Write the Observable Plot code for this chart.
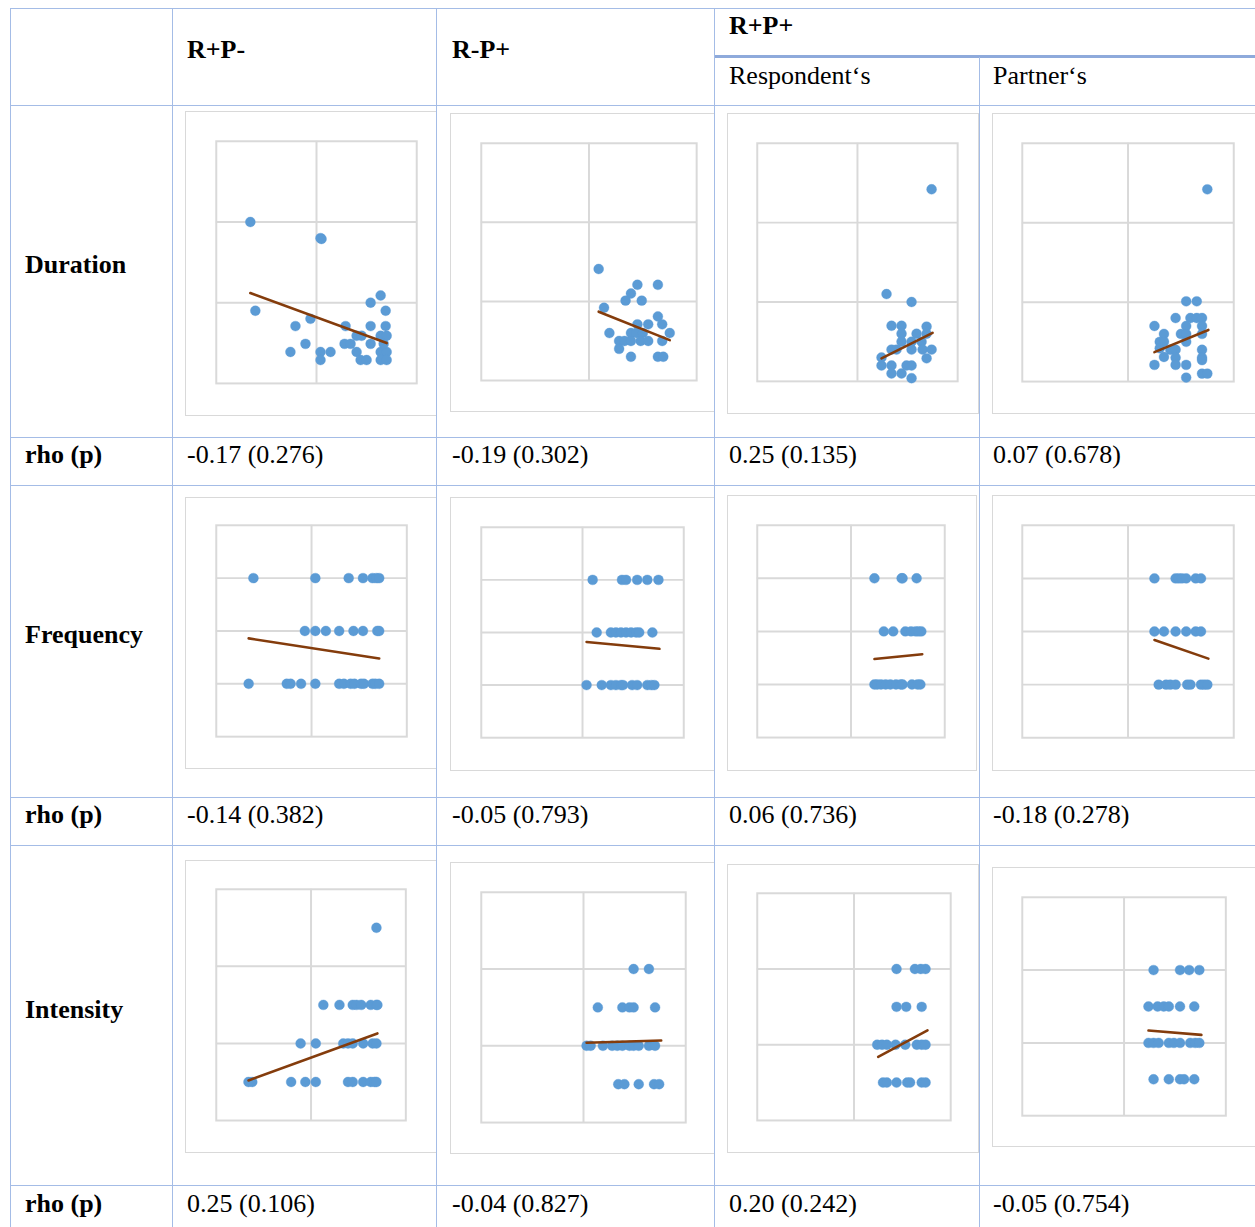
<!DOCTYPE html>
<html><head><meta charset="utf-8">
<script src="https://cdn.jsdelivr.net/npm/d3@7"></script>
<script src="https://cdn.jsdelivr.net/npm/@observablehq/plot@0.6"></script>
<style>
html,body{margin:0;padding:0;background:#fff}
body{width:1255px;height:1227px;overflow:hidden;position:relative;font-family:"Liberation Serif","Times New Roman",serif}
.hl{position:absolute;height:1px;background:#a4bce6}
.vl{position:absolute;width:1px;background:#a4bce6}
.txt{position:absolute;font-size:26px;line-height:30px;height:30px;color:#000;white-space:nowrap}
.b{font-weight:bold}
.cell{position:absolute;overflow:hidden}
.chart{position:absolute;border:1px solid #d9d9d9;box-sizing:border-box;background:#fff}
.chart svg{position:absolute;left:-1px;top:-1px}
</style></head><body>
<script>
// ---------- text ----------
const groupHeaders = ["R+P-", "R-P+", "R+P+"];
const subHeaders = ["Respondent‘s", "Partner‘s"];
const rowLabels = ["Duration", "Frequency", "Intensity"];
const statLabel = "rho (p)";
const rhoDuration  = ["-0.17 (0.276)", "-0.19 (0.302)", "0.25 (0.135)", "0.07 (0.678)"];
const rhoFrequency = ["-0.14 (0.382)", "-0.05 (0.793)", "0.06 (0.736)", "-0.18 (0.278)"];
const rhoIntensity = ["0.25 (0.106)", "-0.04 (0.827)", "0.20 (0.242)", "-0.05 (0.754)"];

// ---------- data: [x, y] points and trendline end points ----------
const durRPm = [[0.34,2.0],[1.04,1.8],[1.05,1.79],[0.39,0.90],[0.79,0.71],[0.94,0.80],[0.89,0.49],[0.74,0.39],[1.04,0.39],[1.04,0.29],[1.14,0.39],[1.29,0.71],[1.28,0.49],[1.34,0.49],[1.40,0.59],[1.45,0.59],[1.40,0.39],[1.44,0.29],[1.50,0.29],[1.54,1.00],[1.64,1.09],[1.69,0.90],[1.54,0.71],[1.69,0.71],[1.54,0.49],[1.64,0.59],[1.70,0.59],[1.64,0.39],[1.70,0.39],[1.64,0.29],[1.70,0.29],[1.67,0.49]];
const durRPmTrend = [[0.34,1.12],[1.70,0.50]];
const durRmP = [[1.09,1.41],[1.45,1.21],[1.64,1.21],[1.39,1.10],[1.34,1.01],[1.49,1.01],[1.14,0.92],[1.64,0.81],[1.68,0.71],[1.75,0.60],[1.19,0.60],[1.45,0.71],[1.55,0.71],[1.39,0.60],[1.44,0.60],[1.50,0.60],[1.28,0.50],[1.33,0.50],[1.39,0.50],[1.48,0.50],[1.55,0.50],[1.68,0.50],[1.28,0.40],[1.39,0.30],[1.64,0.30],[1.69,0.30]];
const durRmPTrend = [[1.09,0.87],[1.75,0.51]];
const durResp = [[1.74,2.42],[1.29,1.10],[1.54,1.00],[1.34,0.70],[1.44,0.70],[1.44,0.60],[1.59,0.60],[1.69,0.69],[1.69,0.60],[1.44,0.50],[1.54,0.50],[1.64,0.50],[1.34,0.40],[1.39,0.40],[1.54,0.40],[1.65,0.40],[1.74,0.40],[1.69,0.29],[1.24,0.30],[1.24,0.20],[1.34,0.20],[1.49,0.20],[1.54,0.20],[1.34,0.10],[1.44,0.10],[1.54,0.04]];
const durRespTrend = [[1.24,0.29],[1.75,0.61]];
const durPart = [[1.75,2.42],[1.55,1.01],[1.65,1.01],[1.45,0.80],[1.59,0.80],[1.65,0.80],[1.70,0.80],[1.25,0.70],[1.55,0.70],[1.70,0.70],[1.34,0.60],[1.50,0.60],[1.55,0.60],[1.70,0.60],[1.30,0.50],[1.34,0.50],[1.55,0.50],[1.30,0.42],[1.40,0.40],[1.45,0.40],[1.70,0.40],[1.34,0.31],[1.45,0.30],[1.70,0.30],[1.25,0.21],[1.45,0.21],[1.55,0.21],[1.70,0.27],[1.70,0.10],[1.75,0.10],[1.55,0.05]];
const durPartTrend = [[1.25,0.37],[1.76,0.65]];

const freqRPm = [[0.39,3],[1.04,3],[1.39,3],[1.54,3],[1.64,3],[1.68,3],[1.71,3],
  [0.93,2],[1.04,2],[1.15,2],[1.29,2],[1.44,2],[1.54,2],[1.69,2],[1.71,2],
  [0.34,1],[0.74,1],[0.78,1],[0.89,1],[1.04,1],[1.29,1],[1.34,1],[1.41,1],[1.45,1],[1.52,1],[1.55,1],[1.64,1],[1.67,1],[1.71,1]];
const freqRPmTrend = [[0.34,1.86],[1.71,1.48]];
const freqRmP = [[1.10,3],[1.39,3],[1.43,3],[1.54,3],[1.64,3],[1.75,3],
  [1.14,2],[1.28,2],[1.33,2],[1.38,2],[1.43,2],[1.48,2],[1.53,2],[1.56,2],[1.69,2],
  [1.04,1],[1.19,1],[1.28,1],[1.33,1],[1.38,1],[1.40,1],[1.49,1],[1.54,1],[1.64,1],[1.68,1],[1.71,1]];
const freqRmPTrend = [[1.04,1.82],[1.76,1.69]];
const freqResp = [[1.25,3],[1.54,3],[1.55,3],[1.70,3],
  [1.35,2],[1.45,2],[1.58,2],[1.64,2],[1.69,2],[1.72,2],[1.75,2],
  [1.25,1],[1.28,1],[1.32,1],[1.37,1],[1.42,1],[1.48,1],[1.53,1],[1.55,1],[1.65,1],[1.71,1],[1.74,1]];
const freqRespTrend = [[1.25,1.48],[1.76,1.57]];
const freqPart = [[1.25,3],[1.45,3],[1.48,3],[1.51,3],[1.55,3],[1.64,3],[1.69,3],
  [1.25,2],[1.34,2],[1.45,2],[1.55,2],[1.64,2],[1.69,2],
  [1.29,1],[1.36,1],[1.40,1],[1.45,1],[1.56,1],[1.59,1],[1.69,1],[1.72,1],[1.75,1]];
const freqPartTrend = [[1.25,1.84],[1.76,1.49]];

const intRPm = [[1.69,2.5],
  [1.13,1.5],[1.30,1.5],[1.44,1.5],[1.48,1.5],[1.53,1.5],[1.63,1.5],[1.69,1.5],[1.70,1.5],
  [0.89,1],[1.05,1],[1.34,1],[1.39,1],[1.44,1],[1.55,1],[1.65,1],[1.69,1],
  [0.34,0.5],[0.38,0.5],[0.79,0.5],[0.94,0.5],[1.05,0.5],[1.39,0.5],[1.44,0.5],[1.55,0.5],[1.63,0.5],[1.67,0.5],[1.69,0.5]];
const intRPmTrend = [[0.34,0.52],[1.70,1.13]];
const intRmP = [[1.49,2],[1.64,2],
  [1.14,1.5],[1.38,1.5],[1.45,1.5],[1.49,1.5],[1.70,1.5],
  [1.03,1],[1.07,1],[1.19,1],[1.28,1],[1.33,1],[1.38,1],[1.45,1],[1.49,1],[1.54,1],[1.64,1],[1.70,1],
  [1.34,0.5],[1.40,0.5],[1.54,0.5],[1.69,0.5],[1.74,0.5]];
const intRmPTrend = [[1.03,1.04],[1.76,1.07]];
const intResp = [[1.44,2],[1.63,2],[1.69,2],[1.74,2],
  [1.44,1.5],[1.54,1.5],[1.70,1.5],
  [1.24,1],[1.29,1],[1.34,1],[1.43,1],[1.53,1],[1.65,1],[1.70,1],[1.74,1],
  [1.30,0.5],[1.34,0.5],[1.44,0.5],[1.55,0.5],[1.58,0.5],[1.70,0.5],[1.74,0.5]];
const intRespTrend = [[1.25,0.84],[1.76,1.19]];
const intPart = [[1.29,2],[1.55,2],[1.64,2],[1.74,2],
  [1.24,1.5],[1.33,1.5],[1.39,1.5],[1.44,1.5],[1.55,1.5],[1.69,1.5],
  [1.24,1],[1.29,1],[1.34,1],[1.44,1],[1.49,1],[1.55,1],[1.65,1],[1.70,1],[1.74,1],
  [1.29,0.5],[1.44,0.5],[1.55,0.5],[1.59,0.5],[1.69,0.5]];
const intPartTrend = [[1.24,1.17],[1.76,1.11]];

// ---------- layout ----------
const colX = [10, 172, 436, 714, 979, 1270];
const chartRows = [[105, 437], [485, 797], [845, 1185]];
// per chart: outer frame [left, top, width, height], inner plot [left, top, right, bottom]
const layout = [
  {d: durRPm,  t: durRPmTrend,  yMax: 3, c: 1, r: 0, outer: [185,111,265,305], inner: [216,141,418,385]},
  {d: durRmP,  t: durRmPTrend,  yMax: 3, c: 2, r: 0, outer: [450,113,270,299], inner: [481,143,698,382]},
  {d: durResp, t: durRespTrend, yMax: 3, c: 3, r: 0, outer: [727,113,252,301], inner: [757,143,959,383]},
  {d: durPart, t: durPartTrend, yMax: 3, c: 4, r: 0, outer: [992,113,280,301], inner: [1022,143,1235,383]},
  {d: freqRPm,  t: freqRPmTrend,  yMax: 4, c: 1, r: 1, outer: [185,497,265,272], inner: [216,525,408,738]},
  {d: freqRmP,  t: freqRmPTrend,  yMax: 4, c: 2, r: 1, outer: [450,497,270,274], inner: [481,527,685,739]},
  {d: freqResp, t: freqRespTrend, yMax: 4, c: 3, r: 1, outer: [727,495,250,276], inner: [757,525,946,739]},
  {d: freqPart, t: freqPartTrend, yMax: 4, c: 4, r: 1, outer: [992,495,280,276], inner: [1022,525,1235,739]},
  {d: intRPm,  t: intRPmTrend,  yMax: 3, c: 1, r: 2, outer: [185,860,265,293], inner: [216,889,407,1122]},
  {d: intRmP,  t: intRmPTrend,  yMax: 3, c: 2, r: 2, outer: [450,862,270,292], inner: [481,892,687,1124]},
  {d: intResp, t: intRespTrend, yMax: 3, c: 3, r: 2, outer: [727,864,252,289], inner: [757,893,952,1122]},
  {d: intPart, t: intPartTrend, yMax: 3, c: 4, r: 2, outer: [992,867,280,280], inner: [1022,897,1227,1117]}
];

const body = document.body;
function el(cls, css, html) {
  const e = document.createElement("div");
  e.className = cls;
  Object.assign(e.style, css);
  if (html != null) e.textContent = html;
  body.appendChild(e);
  return e;
}

// charts
const grid = "#d9d9d9";
for (const L of layout) {
  const [cx0, cx1] = [colX[L.c], colX[L.c + 1]];
  const [ry0, ry1] = chartRows[L.r];
  const cell = el("cell", {left: cx0 + "px", top: ry0 + "px", width: (cx1 - cx0) + "px", height: (ry1 - ry0) + "px"});
  const [ol, ot, ow, oh] = L.outer;
  const [il, it, ir, ib] = L.inner;
  const wrap = document.createElement("div");
  wrap.className = "chart";
  Object.assign(wrap.style, {left: (ol - cx0) + "px", top: (ot - ry0) + "px", width: ow + "px", height: oh + "px"});
  cell.appendChild(wrap);
  const svg = Plot.plot({
    width: ow, height: oh,
    marginLeft: il - ol, marginTop: it - ot, marginRight: ol + ow - ir, marginBottom: ot + oh - ib,
    x: {domain: [0, 2], axis: null},
    y: {domain: [0, L.yMax], axis: null},
    style: {background: "transparent", overflow: "visible"},
    marks: [
      Plot.gridX([1], {stroke: grid, strokeOpacity: 1, strokeWidth: 2}),
      Plot.gridY(d3.range(1, L.yMax), {stroke: grid, strokeOpacity: 1, strokeWidth: 2}),
      Plot.frame({stroke: grid, strokeWidth: 2}),
      Plot.dot(L.d, {x: d => d[0], y: d => d[1], r: 5, fill: "#5b9bd5", stroke: "#5b9bd5", strokeOpacity: 0.35, strokeWidth: 1}),
      Plot.line(L.t, {x: d => d[0], y: d => d[1], stroke: "#843c0c", strokeWidth: 2.6})
    ]
  });
  wrap.appendChild(svg);
}

// table rules
const hLines = [[8, 10, 1255], [105, 10, 1255], [437, 10, 1255], [485, 10, 1255], [797, 10, 1255], [845, 10, 1255], [1185, 10, 1255]];
for (const [y, x0, x1] of hLines) el("hl", {top: y + "px", left: x0 + "px", width: (x1 - x0) + "px"});
el("hl", {top: "55px", left: "714px", width: "541px", height: "3px", background: "#8eaadb"});
const vLines = [[10, 8], [172, 8], [436, 8], [714, 8], [979, 57]];
for (const [x, y0] of vLines) el("vl", {left: x + "px", top: y0 + "px", height: (1227 - y0) + "px"});

// text
function txt(s, x, cy, bold) { el("txt" + (bold ? " b" : ""), {left: x + "px", top: (cy - 15) + "px"}, s); }
txt(groupHeaders[0], 187, 50, true);
txt(groupHeaders[1], 452, 50, true);
txt(groupHeaders[2], 729, 26, true);
txt(subHeaders[0], 729, 76, false);
txt(subHeaders[1], 993, 76, false);
const rowCy = [265, 635, 1010];
const rhoCy = [455, 815, 1204];
const rhoVals = [rhoDuration, rhoFrequency, rhoIntensity];
const valX = [187, 452, 729, 993];
rowLabels.forEach((lab, i) => {
  txt(lab, 25, rowCy[i], true);
  txt(statLabel, 25, rhoCy[i], true);
  rhoVals[i].forEach((v, j) => txt(v, valX[j], rhoCy[i], false));
});
</script>
</body></html>
